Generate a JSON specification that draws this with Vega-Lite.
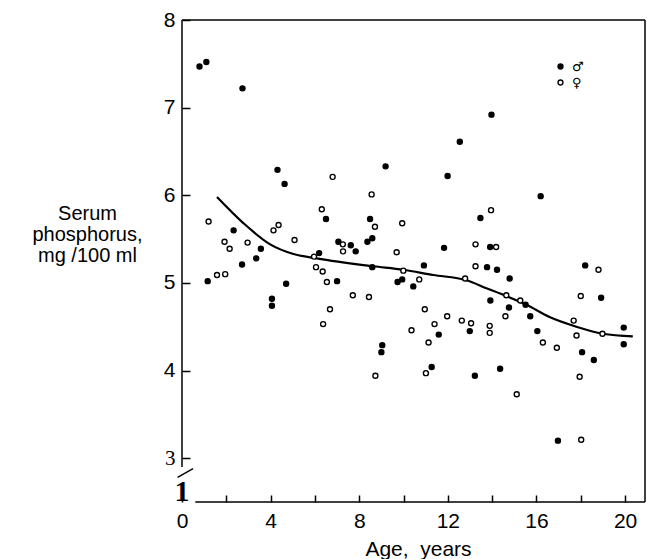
{
  "$schema": "https://vega.github.io/schema/vega-lite/v6.json",
  "width": 463,
  "height": 482,
  "autosize": {"type": "none"},
  "padding": {"left": 182, "top": 20, "right": 2, "bottom": 57},
  "background": "white",
  "config": {"view": {"stroke": null}, "font": "Liberation Sans"},
  "datasets": {
    "frame": [
      {"age": 0, "age2": 0, "phosphorus": 2.9, "phosphorus2": 8},
      {"age": 0, "age2": 20.9, "phosphorus": 8, "phosphorus2": 8},
      {"age": 20.9, "age2": 20.9, "phosphorus": 2.5, "phosphorus2": 8},
      {"age": 0.6, "age2": 20.9, "phosphorus": 2.5, "phosphorus2": 2.5},
      {"age": -0.2, "age2": 0.5, "phosphorus": 2.78, "phosphorus2": 2.88}
    ],
    "curve": [
      {"age": 1.58, "phosphorus": 5.98},
      {"age": 2.78, "phosphorus": 5.68},
      {"age": 3.98, "phosphorus": 5.44},
      {"age": 5.03, "phosphorus": 5.33},
      {"age": 6.08, "phosphorus": 5.28},
      {"age": 8.64, "phosphorus": 5.19},
      {"age": 9.99, "phosphorus": 5.15},
      {"age": 11.34, "phosphorus": 5.09},
      {"age": 12.84, "phosphorus": 5.03},
      {"age": 13.74, "phosphorus": 4.94},
      {"age": 14.64, "phosphorus": 4.85},
      {"age": 15.55, "phosphorus": 4.75},
      {"age": 16.59, "phosphorus": 4.61},
      {"age": 17.8, "phosphorus": 4.5},
      {"age": 19.0, "phosphorus": 4.42},
      {"age": 20.35, "phosphorus": 4.39}
    ],
    "mark1": [{"age": 0, "phosphorus": 2.5, "label": "1"}],
    "pts": [
      {"age": 0.79, "phosphorus": 7.47, "sex": "M"},
      {"age": 1.10, "phosphorus": 7.52, "sex": "M"},
      {"age": 2.73, "phosphorus": 7.22, "sex": "M"},
      {"age": 4.31, "phosphorus": 6.29, "sex": "M"},
      {"age": 4.63, "phosphorus": 6.13, "sex": "M"},
      {"age": 9.19, "phosphorus": 6.33, "sex": "M"},
      {"age": 13.97, "phosphorus": 6.92, "sex": "M"},
      {"age": 12.54, "phosphorus": 6.61, "sex": "M"},
      {"age": 11.99, "phosphorus": 6.22, "sex": "M"},
      {"age": 16.19, "phosphorus": 5.99, "sex": "M"},
      {"age": 1.16, "phosphorus": 5.02, "sex": "M"},
      {"age": 2.33, "phosphorus": 5.60, "sex": "M"},
      {"age": 2.71, "phosphorus": 5.21, "sex": "M"},
      {"age": 3.35, "phosphorus": 5.28, "sex": "M"},
      {"age": 3.56, "phosphorus": 5.39, "sex": "M"},
      {"age": 4.06, "phosphorus": 4.82, "sex": "M"},
      {"age": 4.06, "phosphorus": 4.74, "sex": "M"},
      {"age": 4.70, "phosphorus": 4.99, "sex": "M"},
      {"age": 6.19, "phosphorus": 5.34, "sex": "M"},
      {"age": 6.50, "phosphorus": 5.73, "sex": "M"},
      {"age": 7.00, "phosphorus": 5.02, "sex": "M"},
      {"age": 7.06, "phosphorus": 5.47, "sex": "M"},
      {"age": 7.62, "phosphorus": 5.43, "sex": "M"},
      {"age": 7.84, "phosphorus": 5.36, "sex": "M"},
      {"age": 8.37, "phosphorus": 5.47, "sex": "M"},
      {"age": 8.59, "phosphorus": 5.51, "sex": "M"},
      {"age": 8.49, "phosphorus": 5.73, "sex": "M"},
      {"age": 8.59, "phosphorus": 5.18, "sex": "M"},
      {"age": 9.04, "phosphorus": 4.29, "sex": "M"},
      {"age": 9.00, "phosphorus": 4.21, "sex": "M"},
      {"age": 9.73, "phosphorus": 5.01, "sex": "M"},
      {"age": 9.94, "phosphorus": 5.04, "sex": "M"},
      {"age": 10.92, "phosphorus": 5.20, "sex": "M"},
      {"age": 10.44, "phosphorus": 4.96, "sex": "M"},
      {"age": 11.59, "phosphorus": 4.41, "sex": "M"},
      {"age": 11.27, "phosphorus": 4.04, "sex": "M"},
      {"age": 11.83, "phosphorus": 5.40, "sex": "M"},
      {"age": 12.99, "phosphorus": 4.45, "sex": "M"},
      {"age": 13.47, "phosphorus": 5.74, "sex": "M"},
      {"age": 13.91, "phosphorus": 5.41, "sex": "M"},
      {"age": 13.77, "phosphorus": 5.18, "sex": "M"},
      {"age": 14.22, "phosphorus": 5.15, "sex": "M"},
      {"age": 14.79, "phosphorus": 5.05, "sex": "M"},
      {"age": 13.92, "phosphorus": 4.80, "sex": "M"},
      {"age": 14.76, "phosphorus": 4.72, "sex": "M"},
      {"age": 15.51, "phosphorus": 4.75, "sex": "M"},
      {"age": 15.72, "phosphorus": 4.62, "sex": "M"},
      {"age": 16.04, "phosphorus": 4.45, "sex": "M"},
      {"age": 18.20, "phosphorus": 5.20, "sex": "M"},
      {"age": 18.92, "phosphorus": 4.83, "sex": "M"},
      {"age": 18.06, "phosphorus": 4.21, "sex": "M"},
      {"age": 18.59, "phosphorus": 4.12, "sex": "M"},
      {"age": 19.94, "phosphorus": 4.49, "sex": "M"},
      {"age": 19.94, "phosphorus": 4.30, "sex": "M"},
      {"age": 13.22, "phosphorus": 3.94, "sex": "M"},
      {"age": 14.36, "phosphorus": 4.02, "sex": "M"},
      {"age": 16.97, "phosphorus": 3.20, "sex": "M"},
      {"age": 6.80, "phosphorus": 6.21, "sex": "F"},
      {"age": 8.56, "phosphorus": 6.01, "sex": "F"},
      {"age": 1.20, "phosphorus": 5.70, "sex": "F"},
      {"age": 1.58, "phosphorus": 5.09, "sex": "F"},
      {"age": 1.95, "phosphorus": 5.10, "sex": "F"},
      {"age": 1.92, "phosphorus": 5.47, "sex": "F"},
      {"age": 2.15, "phosphorus": 5.39, "sex": "F"},
      {"age": 2.96, "phosphorus": 5.46, "sex": "F"},
      {"age": 4.13, "phosphorus": 5.60, "sex": "F"},
      {"age": 4.36, "phosphorus": 5.66, "sex": "F"},
      {"age": 5.08, "phosphorus": 5.49, "sex": "F"},
      {"age": 5.96, "phosphorus": 5.30, "sex": "F"},
      {"age": 6.31, "phosphorus": 5.84, "sex": "F"},
      {"age": 6.05, "phosphorus": 5.18, "sex": "F"},
      {"age": 6.35, "phosphorus": 5.13, "sex": "F"},
      {"age": 6.54, "phosphorus": 5.01, "sex": "F"},
      {"age": 6.68, "phosphorus": 4.70, "sex": "F"},
      {"age": 6.37, "phosphorus": 4.53, "sex": "F"},
      {"age": 7.26, "phosphorus": 5.44, "sex": "F"},
      {"age": 7.27, "phosphorus": 5.36, "sex": "F"},
      {"age": 7.71, "phosphorus": 4.86, "sex": "F"},
      {"age": 8.44, "phosphorus": 4.84, "sex": "F"},
      {"age": 8.71, "phosphorus": 5.64, "sex": "F"},
      {"age": 8.73, "phosphorus": 3.94, "sex": "F"},
      {"age": 9.69, "phosphorus": 5.35, "sex": "F"},
      {"age": 9.94, "phosphorus": 5.68, "sex": "F"},
      {"age": 9.99, "phosphorus": 5.14, "sex": "F"},
      {"age": 10.71, "phosphorus": 5.04, "sex": "F"},
      {"age": 10.96, "phosphorus": 4.70, "sex": "F"},
      {"age": 10.36, "phosphorus": 4.46, "sex": "F"},
      {"age": 11.40, "phosphorus": 4.53, "sex": "F"},
      {"age": 11.13, "phosphorus": 4.32, "sex": "F"},
      {"age": 11.01, "phosphorus": 3.97, "sex": "F"},
      {"age": 11.97, "phosphorus": 4.62, "sex": "F"},
      {"age": 12.63, "phosphorus": 4.57, "sex": "F"},
      {"age": 13.05, "phosphorus": 4.54, "sex": "F"},
      {"age": 12.78, "phosphorus": 5.05, "sex": "F"},
      {"age": 13.95, "phosphorus": 5.83, "sex": "F"},
      {"age": 13.25, "phosphorus": 5.44, "sex": "F"},
      {"age": 14.18, "phosphorus": 5.41, "sex": "F"},
      {"age": 13.25, "phosphorus": 5.19, "sex": "F"},
      {"age": 13.89, "phosphorus": 4.51, "sex": "F"},
      {"age": 13.89, "phosphorus": 4.43, "sex": "F"},
      {"age": 14.64, "phosphorus": 4.86, "sex": "F"},
      {"age": 14.60, "phosphorus": 4.62, "sex": "F"},
      {"age": 15.27, "phosphorus": 4.80, "sex": "F"},
      {"age": 16.29, "phosphorus": 4.32, "sex": "F"},
      {"age": 16.92, "phosphorus": 4.26, "sex": "F"},
      {"age": 18.80, "phosphorus": 5.15, "sex": "F"},
      {"age": 18.00, "phosphorus": 4.85, "sex": "F"},
      {"age": 17.68, "phosphorus": 4.57, "sex": "F"},
      {"age": 17.81, "phosphorus": 4.40, "sex": "F"},
      {"age": 18.98, "phosphorus": 4.42, "sex": "F"},
      {"age": 17.95, "phosphorus": 3.93, "sex": "F"},
      {"age": 15.11, "phosphorus": 3.73, "sex": "F"},
      {"age": 18.02, "phosphorus": 3.21, "sex": "F"}
    ]
  },
  "encoding": {
    "x": {
      "field": "age",
      "type": "quantitative",
      "scale": {"domain": [0, 20.9], "nice": false, "zero": false},
      "axis": {
        "title": "Age,\u00a0 years",
        "values": [0, 2, 4, 6, 8, 10, 12, 14, 16, 18, 20],
        "labelExpr": "datum.value % 4 == 0 ? datum.label : ''",
        "domain": false,
        "grid": false,
        "tickSize": -7,
        "tickWidth": 1.5,
        "tickColor": "black",
        "labelPadding": 15,
        "labelFontSize": 21,
        "labelFont": "Liberation Sans",
        "labelColor": "black",
        "labelFlush": false,
        "labelOverlap": false,
        "titleFont": "Liberation Sans",
        "titleFontSize": 21,
        "titleFontWeight": "normal",
        "titleColor": "black",
        "titleX": 236,
        "titleY": 53,
        "titleAlign": "center",
        "titleBaseline": "alphabetic"
      }
    },
    "y": {
      "field": "phosphorus",
      "type": "quantitative",
      "scale": {"domain": [2.5, 8], "nice": false, "zero": false},
      "axis": {
        "title": ["Serum", "phosphorus,", "mg /100 ml"],
        "values": [3, 4, 5, 6, 7, 8],
        "domain": false,
        "grid": false,
        "tickSize": -8,
        "tickWidth": 1.5,
        "tickColor": "black",
        "labelPadding": 15,
        "labelFontSize": 21,
        "labelFont": {"condition": {"test": "datum.value == 3", "value": "Liberation Serif"}, "value": "Liberation Sans"},
        "labelColor": "black",
        "labelFlush": false,
        "labelOverlap": false,
        "titleFont": "Liberation Sans",
        "titleFontSize": 20,
        "titleFontWeight": "normal",
        "titleColor": "black",
        "titleAngle": 0,
        "titleX": -95,
        "titleY": 199,
        "titleAlign": "center",
        "titleBaseline": "alphabetic",
        "titleLineHeight": 21
      }
    }
  },
  "layer": [
    {
      "data": {"name": "frame"},
      "mark": {"type": "rule", "color": "black", "strokeWidth": 1.5},
      "encoding": {
        "x2": {"field": "age2"},
        "y2": {"field": "phosphorus2"}
      }
    },
    {
      "data": {"name": "curve"},
      "mark": {"type": "line", "color": "black", "strokeWidth": 2.2, "interpolate": "monotone"},
      "encoding": {}
    },
    {
      "data": {"name": "pts"},
      "mark": {"type": "point", "filled": true, "stroke": "black", "strokeWidth": 1.4, "opacity": 1, "size": 25},
      "encoding": {
        "fill": {
          "field": "sex",
          "type": "nominal",
          "scale": {"domain": ["M", "F"], "range": ["black", "white"]},
          "legend": {
            "orient": "none",
            "legendX": 372,
            "legendY": 40,
            "title": null,
            "padding": 0,
            "labelExpr": "datum.label == 'M' ? '♂' : '♀'",
            "labelFont": "DejaVu Sans",
            "labelFontSize": 13,
            "labelColor": "black",
            "labelOffset": 5,
            "rowPadding": 2,
            "symbolSize": 24,
            "symbolType": "circle",
            "symbolStrokeColor": "black",
            "symbolStrokeWidth": 1.4
          }
        }
      }
    },
    {
      "data": {"name": "mark1"},
      "mark": {"type": "text", "font": "Liberation Serif", "fontWeight": "bold", "fontSize": 30, "align": "center", "baseline": "alphabetic", "dy": -1, "color": "black"},
      "encoding": {"text": {"field": "label"}}
    }
  ]
}
